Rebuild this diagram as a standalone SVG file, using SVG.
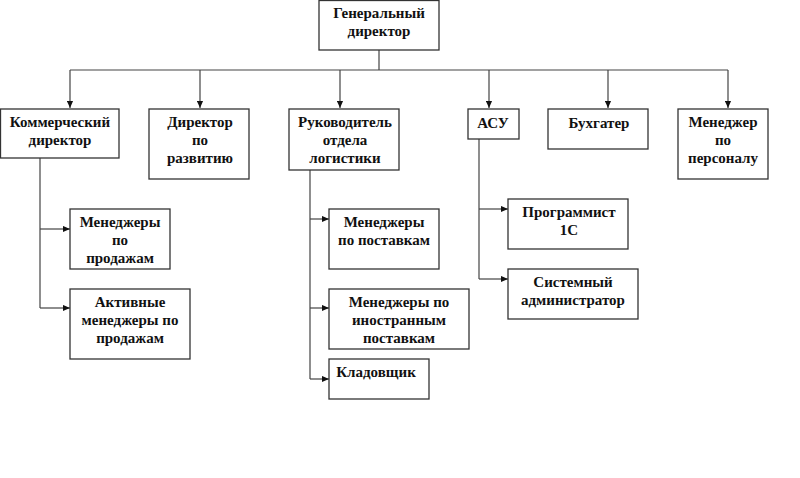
<svg xmlns="http://www.w3.org/2000/svg" width="800" height="478" viewBox="0 0 800 478">
<style>
.box{fill:#fff;stroke:#333;stroke-width:1.3}
.t{font-family:'Liberation Serif','DejaVu Serif',serif;font-weight:bold;font-size:15px;fill:#111;text-anchor:middle}
.ln{fill:none;stroke:#444;stroke-width:1.2}
</style>
<defs>
<marker id="ah" viewBox="0 0 8 8" refX="8" refY="4" markerWidth="7" markerHeight="7" markerUnits="userSpaceOnUse" orient="auto">
<path d="M0,0.5 L8,4 L0,7.5 Z" fill="#111"/>
</marker>
</defs>
<rect width="800" height="478" fill="#fff"/>
<g id="connectors">
<path class="ln" d="M379,50 V70 M70,70 H728"/>
<path class="ln" d="M70,70 V108" marker-end="url(#ah)"/>
<path class="ln" d="M200,70 V108" marker-end="url(#ah)"/>
<path class="ln" d="M340,70 V108" marker-end="url(#ah)"/>
<path class="ln" d="M489,70 V108" marker-end="url(#ah)"/>
<path class="ln" d="M608,70 V108" marker-end="url(#ah)"/>
<path class="ln" d="M728,70 V108" marker-end="url(#ah)"/>
<path class="ln" d="M40,158 V308"/>
<path class="ln" d="M40,229 H70" marker-end="url(#ah)"/>
<path class="ln" d="M40,308 H70" marker-end="url(#ah)"/>
<path class="ln" d="M310,170 V379"/>
<path class="ln" d="M310,219 H329" marker-end="url(#ah)"/>
<path class="ln" d="M310,308 H329" marker-end="url(#ah)"/>
<path class="ln" d="M310,379 H329" marker-end="url(#ah)"/>
<path class="ln" d="M479,139 V279"/>
<path class="ln" d="M479,209 H508" marker-end="url(#ah)"/>
<path class="ln" d="M479,279 H508" marker-end="url(#ah)"/>
</g>
<g id="gen"><rect class="box" x="319" y="0.5" width="120" height="49.5"/><text class="t" x="379" y="18">Генеральный</text><text class="t" x="379" y="36">директор</text></g>
<g id="kom"><rect class="box" x="0.5" y="109" width="118.5" height="49"/><text class="t" x="60" y="127">Коммерческий</text><text class="t" x="60" y="145">директор</text></g>
<g id="razv"><rect class="box" x="149" y="109" width="100" height="70"/><text class="t" x="200" y="127">Директор</text><text class="t" x="200" y="145">по</text><text class="t" x="200" y="163">развитию</text></g>
<g id="log"><rect class="box" x="289" y="109" width="110" height="61"/><text class="t" x="345" y="127">Руководитель</text><text class="t" x="345" y="145">отдела</text><text class="t" x="345" y="163">логистики</text></g>
<g id="asu"><rect class="box" x="468" y="109" width="51" height="30"/><text class="t" x="493" y="128">АСУ</text></g>
<g id="buh"><rect class="box" x="548" y="109" width="100" height="40"/><text class="t" x="599" y="128">Бухгатер</text></g>
<g id="pers"><rect class="box" x="678" y="109" width="90" height="70"/><text class="t" x="723" y="127">Менеджер</text><text class="t" x="723" y="145">по</text><text class="t" x="723" y="163">персоналу</text></g>
<g id="prod"><rect class="box" x="70" y="209" width="100" height="60"/><text class="t" x="120" y="227">Менеджеры</text><text class="t" x="120" y="245">по</text><text class="t" x="120" y="263">продажам</text></g>
<g id="aktiv"><rect class="box" x="70" y="289" width="120" height="70"/><text class="t" x="130" y="307">Активные</text><text class="t" x="130" y="325">менеджеры по</text><text class="t" x="130" y="343">продажам</text></g>
<g id="post"><rect class="box" x="329" y="209" width="110" height="60"/><text class="t" x="384" y="227">Менеджеры</text><text class="t" x="384" y="245">по поставкам</text></g>
<g id="inostr"><rect class="box" x="329" y="289" width="140" height="60"/><text class="t" x="399" y="307">Менеджеры по</text><text class="t" x="399" y="325">иностранным</text><text class="t" x="399" y="343">поставкам</text></g>
<g id="sklad"><rect class="box" x="329" y="359" width="100" height="40"/><text class="t" x="376" y="377">Кладовщик</text></g>
<g id="prog"><rect class="box" x="508" y="199" width="120" height="50"/><text class="t" x="569" y="217">Программист</text><text class="t" x="569" y="235">1С</text></g>
<g id="sys"><rect class="box" x="508" y="269" width="130" height="50"/><text class="t" x="573" y="287">Системный</text><text class="t" x="573" y="305">администратор</text></g>
</svg>
